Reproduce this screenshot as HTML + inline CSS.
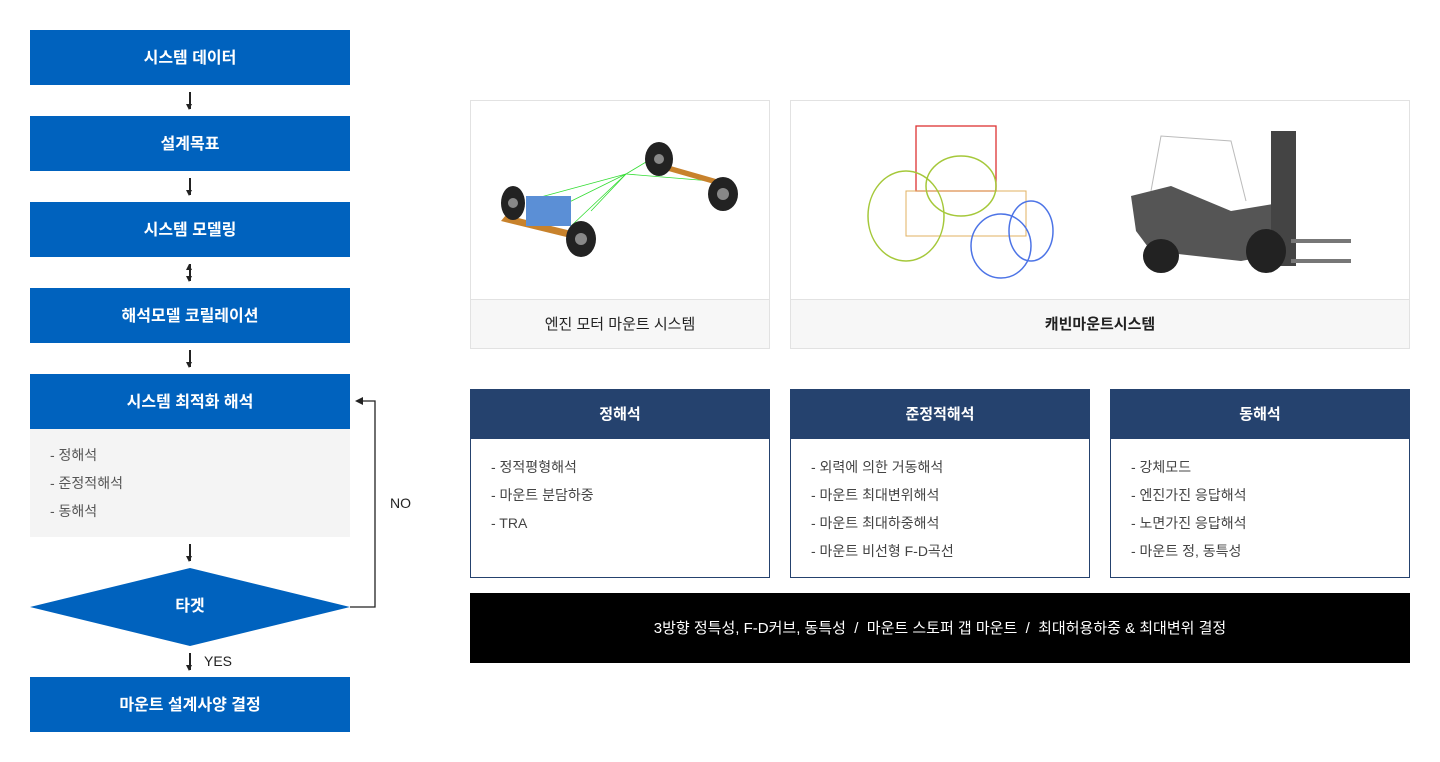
<!DOCTYPE html>
<html><head><meta charset="utf-8"><style>
*{margin:0;padding:0;box-sizing:border-box}
body{width:1440px;height:762px;background:#fff;font-family:"Liberation Sans","Noto Sans CJK KR",sans-serif;position:relative;overflow:hidden}
.a{position:absolute}
.bb{position:absolute;left:30px;width:320px;height:55px;background:#0062be;color:#fff;font-weight:bold;font-size:16px;display:flex;align-items:center;justify-content:center;padding-bottom:3px}
.ar{position:absolute;left:189px;width:1.5px;background:#222}
.ar:after{content:"";position:absolute;left:-3px;bottom:-1px;border-left:3.5px solid transparent;border-right:3.5px solid transparent;border-top:6px solid #222}
.pan{position:absolute;top:100px;height:249px;border:1px solid #e2e2e2;background:#fff}
.cap{position:absolute;left:0;right:0;bottom:0;height:49px;border-top:1px solid #e2e2e2;background:#f7f7f7;display:flex;align-items:center;justify-content:center;font-size:15px;color:#222;padding-bottom:2px}
.card{position:absolute;top:389px;width:300px;height:189px;border:1px solid #25426e}
.card h3{height:49px;background:#25426e;color:#fff;font-size:15px;display:flex;align-items:center;justify-content:center;font-weight:bold;padding-bottom:3px}
.card ul{list-style:none;padding:14px 0 0 20px;font-size:14px;color:#444;line-height:28px}
</style></head><body>
<div class="bb" style="top:30px">시스템 데이터</div>
<div class="ar" style="top:92px;height:17px"></div>
<div class="bb" style="top:116px">설계목표</div>
<div class="ar" style="top:178px;height:17px"></div>
<div class="bb" style="top:202px">시스템 모델링</div>
<div class="ar" style="top:264px;height:17px"></div>
<div class="a" style="left:186px;top:264px;border-left:3.5px solid transparent;border-right:3.5px solid transparent;border-bottom:6px solid #222"></div>
<div class="bb" style="top:288px">해석모델 코릴레이션</div>
<div class="ar" style="top:350px;height:17px"></div>
<div class="bb" style="top:374px">시스템 최적화 해석</div>
<div class="a" style="left:30px;top:429px;width:320px;height:108px;background:#f4f4f4;padding:12px 0 0 20px;font-size:14px;color:#555;line-height:28px">- 정해석<br>- 준정적해석<br>- 동해석</div>
<div class="ar" style="top:544px;height:17px"></div>
<svg class="a" style="left:0;top:390px" width="420" height="270"><polygon points="30,217 190,178 350,217 190,256" fill="#0062be"/>
<polyline points="350,217 375,217 375,11 362,11" fill="none" stroke="#222" stroke-width="1.3"/>
<polygon points="355,11 363,7 363,15" fill="#222"/></svg>
<div class="a" style="left:30px;top:592px;width:320px;text-align:center;color:#fff;font-weight:bold;font-size:16px">타겟</div>
<div class="a" style="left:390px;top:495px;font-size:14px;color:#222">NO</div>
<div class="ar" style="top:653px;height:17px"></div>
<div class="a" style="left:204px;top:653px;font-size:14px;color:#222">YES</div>
<div class="bb" style="top:677px">마운트 설계사양 결정</div>

<div class="pan" style="left:470px;width:300px">
<svg width="298" height="198">
<g stroke="#3d3" stroke-width="0.8"><line x1="155" y1="73" x2="55" y2="100"/><line x1="155" y1="73" x2="70" y2="115"/><line x1="155" y1="73" x2="100" y2="125"/><line x1="155" y1="73" x2="185" y2="55"/><line x1="155" y1="73" x2="240" y2="80"/><line x1="155" y1="73" x2="120" y2="110"/></g>
<polygon points="30,120 120,142 125,136 35,114" fill="#c8822c"/>
<polygon points="180,65 250,85 252,80 182,60" fill="#c8822c"/>
<rect x="55" y="95" width="45" height="30" fill="#5b8fd6"/>
<g fill="#222"><ellipse cx="42" cy="102" rx="12" ry="17"/><ellipse cx="110" cy="138" rx="15" ry="18"/><ellipse cx="188" cy="58" rx="14" ry="17"/><ellipse cx="252" cy="93" rx="15" ry="17"/></g>
<g fill="#888"><circle cx="42" cy="102" r="5"/><circle cx="110" cy="138" r="6"/><circle cx="188" cy="58" r="5"/><circle cx="252" cy="93" r="6"/></g>
</svg>
<div class="cap">엔진 모터 마운트 시스템</div></div>
<div class="pan" style="left:790px;width:620px">
<svg width="618" height="198">
<rect x="125" y="25" width="80" height="65" fill="none" stroke="#d33" stroke-width="1.3"/>
<rect x="115" y="90" width="120" height="45" fill="none" stroke="#e0b060"/>
<g fill="none" stroke="#a5c83a" stroke-width="1.5"><ellipse cx="115" cy="115" rx="38" ry="45"/><ellipse cx="170" cy="85" rx="35" ry="30"/></g>
<g fill="none" stroke="#4d74e6" stroke-width="1.5"><ellipse cx="210" cy="145" rx="30" ry="32"/><ellipse cx="240" cy="130" rx="22" ry="30"/></g>
<polygon points="340,95 380,85 440,110 500,100 505,150 450,160 360,150 345,130" fill="#555"/>
<rect x="480" y="30" width="25" height="135" fill="#444"/>
<rect x="500" y="138" width="60" height="4" fill="#777"/>
<rect x="500" y="158" width="60" height="4" fill="#777"/>
<path d="M360 90 L370 35 L440 40 L455 100" fill="none" stroke="#bbb"/>
<g fill="#222"><ellipse cx="370" cy="155" rx="18" ry="17"/><ellipse cx="475" cy="150" rx="20" ry="22"/></g>
</svg>
<div class="cap" style="font-weight:bold">캐빈마운트시스템</div></div>

<div class="card" style="left:470px"><h3>정해석</h3><ul><li>- 정적평형해석</li><li>- 마운트 분담하중</li><li>- TRA</li></ul></div>
<div class="card" style="left:790px"><h3>준정적해석</h3><ul><li>- 외력에 의한 거동해석</li><li>- 마운트 최대변위해석</li><li>- 마운트 최대하중해석</li><li>- 마운트 비선형 F-D곡선</li></ul></div>
<div class="card" style="left:1110px"><h3>동해석</h3><ul><li>- 강체모드</li><li>- 엔진가진 응답해석</li><li>- 노면가진 응답해석</li><li>- 마운트 정, 동특성</li></ul></div>
<div class="a" style="left:470px;top:593px;width:940px;height:70px;background:#000;color:#fff;font-size:15px;display:flex;align-items:center;justify-content:center;white-space:pre;padding-bottom:2px">3방향 정특성, F-D커브, 동특성  /  마운트 스토퍼 갭 마운트  /  최대허용하중 &amp; 최대변위 결정</div>
</body></html>
